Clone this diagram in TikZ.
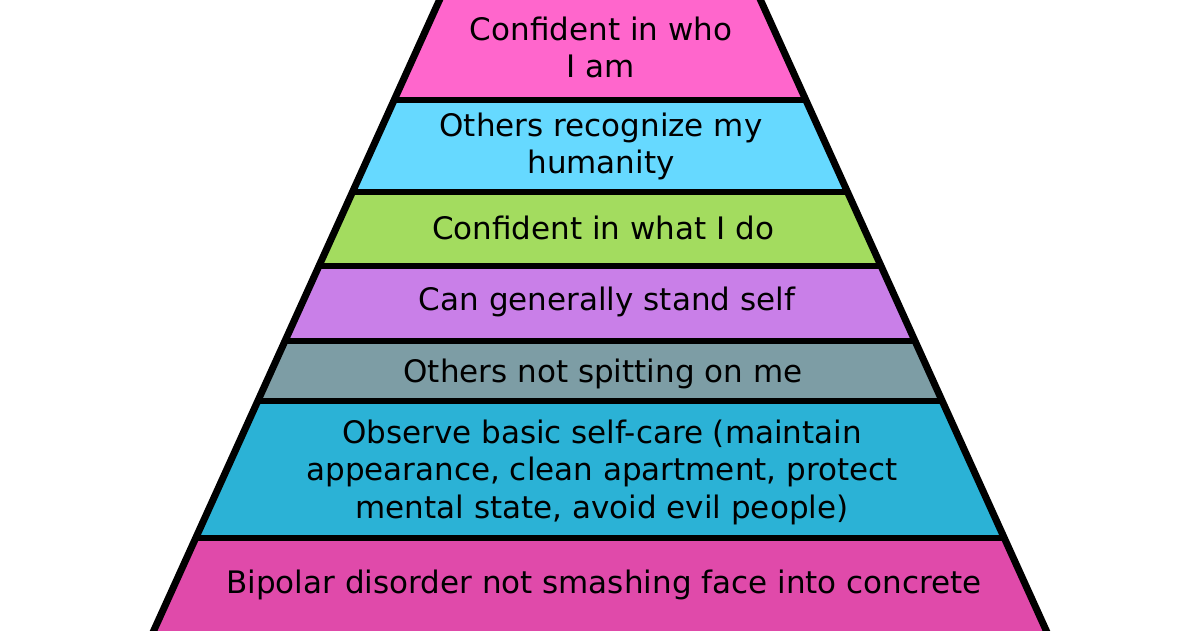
\documentclass[tikz,border=0pt]{standalone}
\usepackage{fontspec}
\setmainfont{DejaVu Sans}
\definecolor{cPink}{HTML}{FF66CC}
\definecolor{cSky}{HTML}{66D9FF}
\definecolor{cGreen}{HTML}{A3DC5F}
\definecolor{cPurple}{HTML}{C97FE8}
\definecolor{cGray}{HTML}{7D9DA5}
\definecolor{cTeal}{HTML}{2BB2D6}
\definecolor{cMag}{HTML}{E04AAA}
\tikzset{
  lbl/.style={align=center, font=\fontsize{31}{37.5}\selectfont, text=black, inner sep=0pt},
  sep/.style={line width=6pt},
  outline/.style={line width=7pt, line join=miter}
}
\begin{document}
\begin{tikzpicture}[x=1pt,y=-1pt]
\useasboundingbox (0,0) rectangle (1200,630);
\clip (0,0) rectangle (1200,630);
% edge coordinates: half width w(y)=160.5+0.4532y about x=600
\coordinate (L0) at (444,-10);   \coordinate (R0) at (756,-10);
\coordinate (L1) at (394.4,99.5); \coordinate (R1) at (805.6,99.5);
\coordinate (L2) at (352.5,192); \coordinate (R2) at (847.5,192);
\coordinate (L3) at (318.9,266); \coordinate (R3) at (881.1,266);
\coordinate (L4) at (285,341);   \coordinate (R4) at (915,341);
\coordinate (L5) at (257.8,401); \coordinate (R5) at (942.2,401);
\coordinate (L6) at (195.7,538); \coordinate (R6) at (1004.3,538);
\coordinate (L7) at (149.5,640); \coordinate (R7) at (1050.5,640);
% bands
\fill[cPink]   (L0) -- (R0) -- (R1) -- (L1) -- cycle;
\fill[cSky]    (L1) -- (R1) -- (R2) -- (L2) -- cycle;
\fill[cGreen]  (L2) -- (R2) -- (R3) -- (L3) -- cycle;
\fill[cPurple] (L3) -- (R3) -- (R4) -- (L4) -- cycle;
\fill[cGray]   (L4) -- (R4) -- (R5) -- (L5) -- cycle;
\fill[cTeal]   (L5) -- (R5) -- (R6) -- (L6) -- cycle;
\fill[cMag]    (L6) -- (R6) -- (R7) -- (L7) -- cycle;
% separators
\foreach \i in {1,...,6} {\draw[sep] (L\i) -- (R\i);}
% outer outline
\draw[outline] (L0) -- (L7);
\draw[outline] (R0) -- (R7);
% labels
\node[lbl] (t1) at (601,47.5) {Confident in who\\I am};
\node[lbl] (t2) at (601,146.5) {Others recognize my\\humanity};
\node[lbl] (t3) at (603,228) {Confident in what I do};
\node[lbl] (t4) at (607,302) {Can generally stand self};
\node[lbl] (t5) at (603,374) {Others not spitting on me};
\node[lbl] (t6) at (602,472) {Observe basic self-care (maintain\\appearance, clean apartment, protect\\mental state, avoid evil people)};
\node[lbl] (t7) at (604,585) {Bipolar disorder not smashing face into concrete};
\end{tikzpicture}
\end{document}
